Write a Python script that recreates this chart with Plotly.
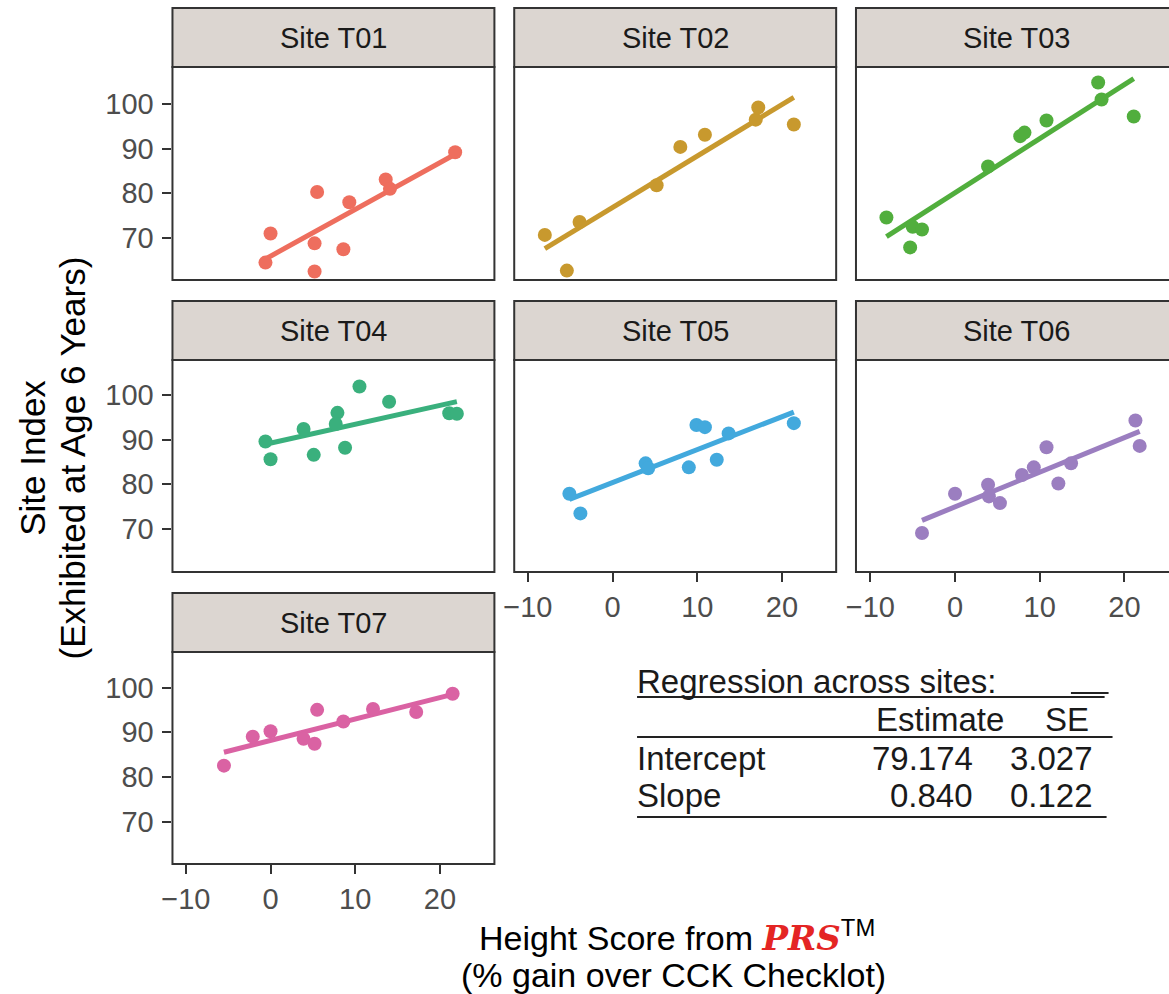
import numpy as np
import plotly.graph_objects as go

W, H = 1169, 994

# ---------------- data ----------------
sites = ["Site T01", "Site T02", "Site T03", "Site T04", "Site T05", "Site T06", "Site T07"]
colors = ["#EE6E5E", "#C8992E", "#51AE3D", "#3AB07D", "#42A9DD", "#9B7EC0", "#DA62A3"]

t01_x = [-0.6, 0.0, 5.5, 5.2, 5.2, 8.6, 9.3, 13.6, 14.1, 21.8]
t01_y = [64.5, 71.0, 80.3, 68.8, 62.5, 67.5, 78.0, 83.1, 81.0, 89.2]

t02_x = [-8.0, -5.4, -3.9, 5.2, 8.0, 10.9, 16.9, 17.2, 21.4]
t02_y = [70.7, 62.7, 73.6, 81.8, 90.4, 93.1, 96.5, 99.2, 95.4]

t03_x = [-8.1, -5.3, -5.0, -3.9, 3.9, 7.7, 8.2, 10.8, 16.9, 17.3, 21.1]
t03_y = [74.6, 67.9, 72.5, 71.9, 86.0, 92.8, 93.6, 96.3, 104.8, 101.0, 97.2]

t04_x = [-0.6, 0.0, 3.9, 5.1, 7.9, 7.7, 8.8, 10.5, 14.0, 21.1, 22.0]
t04_y = [89.6, 85.6, 92.4, 86.6, 96.0, 93.5, 88.2, 101.9, 98.5, 95.9, 95.8]

t05_x = [-5.1, -3.8, 3.9, 4.2, 9.0, 9.9, 10.9, 12.3, 13.7, 21.4]
t05_y = [77.9, 73.5, 84.7, 83.6, 83.8, 93.3, 92.8, 85.5, 91.4, 93.7]

t06_x = [-3.9, 0.0, 3.9, 4.0, 5.3, 7.9, 9.3, 10.8, 12.2, 13.7, 21.3, 21.8]
t06_y = [69.1, 77.9, 79.9, 77.3, 75.8, 82.1, 83.8, 88.3, 80.2, 84.7, 94.3, 88.6]

t07_x = [-5.5, -2.1, 0.0, 3.9, 5.2, 5.5, 8.6, 12.1, 17.2, 21.5]
t07_y = [82.5, 89.0, 90.2, 88.5, 87.4, 95.0, 92.4, 95.2, 94.5, 98.6]

site_x = [t01_x, t02_x, t03_x, t04_x, t05_x, t06_x, t07_x]
site_y = [t01_y, t02_y, t03_y, t04_y, t05_y, t06_y, t07_y]

x_ticks = [-10, 0, 10, 20]
x_ticktext = ["\u221210", "0", "10", "20"]
y_ticks = [70, 80, 90, 100]

tbl_title = "Regression across sites:"
tbl_cols = ["Estimate", "SE"]
tbl_rows = ["Intercept", "Slope"]
tbl_est = ["79.174", "0.840"]
tbl_se = ["3.027", "0.122"]

# ---------------- layout geometry (pixels) ----------------
FONT = "Liberation Sans, Arial, sans-serif"
DARK = "#333333"
rows_px = [(67, 280), (360, 572), (652, 864)]
strip_h = 59
cols_px = [(163, 488), (508, 833), (853, 1178)]
panel_pos = [(0, 0), (0, 1), (0, 2), (1, 0), (1, 1), (1, 2), (2, 0)]
px_per_unit_x = 8.55
zero_x = [262.0, 607.3, 953.0]
px_per_unit_y = 4.467
y100_row = [104.0, 395.0, 687.5]
TICK_SIZE = 29
STRIP_SIZE = 29
TITLE_SIZE = 34
YTITLE_SIZE = 35
TABLE_SIZE = 33


def fx(px):
    return px / W


def fy(py):
    return 1 - py / H


fig = go.Figure()
layout_axes = {}
shapes = []
annotations = []

for i, (r, c) in enumerate(panel_pos):
    n = i + 1
    xa = "xaxis" if n == 1 else f"xaxis{n}"
    ya = "yaxis" if n == 1 else f"yaxis{n}"
    xr = "x" if n == 1 else f"x{n}"
    yr = "y" if n == 1 else f"y{n}"
    top, bot = rows_px[r]
    left, right = cols_px[c]
    right_dom = min(right, W)
    x0 = (left - zero_x[c]) / px_per_unit_x
    x1 = (right_dom - zero_x[c]) / px_per_unit_x
    ytop = 100 + (y100_row[r] - top) / px_per_unit_y
    ybot = 100 - (bot - y100_row[r]) / px_per_unit_y

    show_x = (r == 2) or (r == 1 and c in (1, 2))
    show_y = (c == 0)

    layout_axes[xa] = dict(
        domain=[fx(left), fx(right_dom)], range=[x0, x1], anchor=yr,
        tickvals=x_ticks, ticktext=x_ticktext,
        showticklabels=show_x, ticks="outside" if show_x else "",
        ticklen=9, tickwidth=2, tickcolor=DARK,
        tickfont=dict(family=FONT, size=TICK_SIZE, color="#4D4D4D"),
        showgrid=False, zeroline=False, showline=False, fixedrange=True,
    )
    layout_axes[ya] = dict(
        domain=[fy(bot), fy(top)], range=[ybot, ytop], anchor=xr,
        tickvals=y_ticks,
        showticklabels=show_y, ticks="outside" if show_y else "",
        ticklen=9, tickwidth=2, tickcolor=DARK, ticklabelstandoff=3,
        tickfont=dict(family=FONT, size=TICK_SIZE, color="#4D4D4D"),
        showgrid=False, zeroline=False, showline=False, fixedrange=True,
    )

    xs = np.array(site_x[i], dtype=float)
    ys = np.array(site_y[i], dtype=float)
    b, a = np.polyfit(xs, ys, 1)
    lx = np.array([xs.min(), xs.max()])
    fig.add_trace(go.Scatter(x=lx, y=a + b * lx, mode="lines", xaxis=xr, yaxis=yr,
                             line=dict(color=colors[i], width=5), showlegend=False,
                             hoverinfo="skip"))
    fig.add_trace(go.Scatter(x=xs, y=ys, mode="markers", xaxis=xr, yaxis=yr,
                             marker=dict(color=colors[i], size=14, line=dict(width=0)),
                             showlegend=False, cliponaxis=False))

    shapes.append(dict(type="rect", xref="paper", yref="paper",
                       x0=fx(left), x1=fx(right), y0=fy(bot), y1=fy(top),
                       line=dict(color=DARK, width=2), fillcolor="rgba(0,0,0,0)", layer="above"))
    shapes.append(dict(type="rect", xref="paper", yref="paper",
                       x0=fx(left), x1=fx(right), y0=fy(top), y1=fy(top - strip_h),
                       line=dict(color=DARK, width=2), fillcolor="#DCD6D1", layer="above"))
    annotations.append(dict(text=sites[i], xref="paper", yref="paper",
                            x=fx((left + right) / 2), y=fy(top - strip_h / 2), showarrow=False,
                            xanchor="center", yanchor="middle",
                            font=dict(family=FONT, size=STRIP_SIZE, color="#1A1A1A")))

# y-axis title (two lines)
for line_txt, xc in (("Site Index", 21), ("(Exhibited at Age 6 Years)", 62)):
    annotations.append(dict(text=line_txt, xref="paper", yref="paper",
                            x=fx(xc), y=fy(458), textangle=-90, showarrow=False,
                            xanchor="center", yanchor="middle",
                            font=dict(family=FONT, size=YTITLE_SIZE, color="#000000")))

# x-axis title (two lines)
annotations.append(dict(
    text="Height Score from "
         "<span style='color:#E42524;font-family:DejaVu Serif;font-weight:bold;font-style:italic'>PRS</span>"
         "<sup>TM</sup>",
    xref="paper", yref="paper", x=fx(672), y=fy(936), showarrow=False,
    xanchor="center", yanchor="middle", font=dict(family=FONT, size=TITLE_SIZE, color="#000000")))
annotations.append(dict(text="(% gain over CCK Checklot)", xref="paper", yref="paper",
                        x=fx(669), y=fy(975), showarrow=False,
                        xanchor="center", yanchor="middle",
                        font=dict(family=FONT, size=TITLE_SIZE, color="#000000")))

# regression table
TF = dict(family=FONT, size=TABLE_SIZE, color="#1A1A1A")


def txt(s, x, y, anchor):
    annotations.append(dict(text=s, xref="paper", yref="paper", x=fx(x), y=fy(y),
                            showarrow=False, xanchor=anchor, yanchor="middle", font=TF))


def hline(x0, x1, y):
    shapes.append(dict(type="line", xref="paper", yref="paper", x0=fx(x0), x1=fx(x1),
                       y0=fy(y), y1=fy(y), line=dict(color="#222222", width=2)))


txt(tbl_title, 630, 681, "left")
txt(tbl_cols[0], 1004, 719, "right")
txt(tbl_cols[1], 1090, 719, "right")
for k in range(2):
    yy = 758 + 37 * k
    txt(tbl_rows[k], 630, yy, "left")
    txt(tbl_est[k], 973, yy, "right")
    txt(tbl_se[k], 1094, yy, "right")
hline(632, 1104, 697)
hline(1070, 1108, 693)
hline(632, 1112, 737)
hline(632, 1106, 817)

fig.update_layout(
    width=W, height=H, margin=dict(l=0, r=0, t=0, b=0),
    paper_bgcolor="white", plot_bgcolor="white",
    font=dict(family=FONT), shapes=shapes, annotations=annotations,
    showlegend=False, **layout_axes,
)

fig.write_html("out.html")
